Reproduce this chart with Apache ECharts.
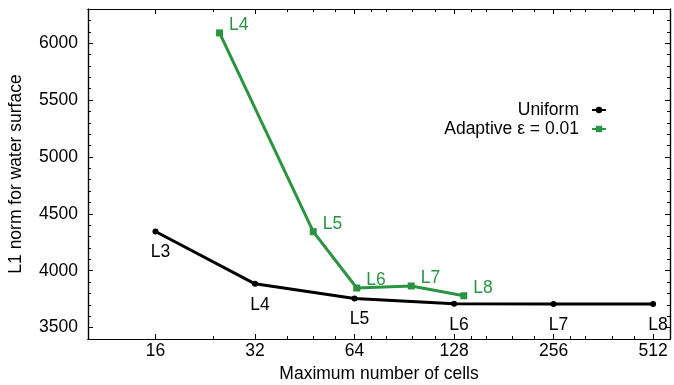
<!DOCTYPE html>
<html><head><meta charset="utf-8">
<script src="https://cdn.jsdelivr.net/npm/echarts@6/dist/echarts.min.js"></script>
<style>html,body{margin:0;padding:0;background:#fff}#c{width:674px;height:385px}</style>
</head><body><div id="c"></div>
<script>
const xTicks = [16, 32, 64, 128, 256, 512];
const xMinorTicks = [24, 40, 48, 56, 72, 80, 96, 112, 144, 160, 192, 224, 288, 320, 384, 448];
const yTicks = [3500, 4000, 4500, 5000, 5500, 6000];
const yMinorTicks = [3600, 3700, 3800, 3900, 4100, 4200, 4300, 4400, 4600, 4700, 4800, 4900,
  5100, 5200, 5300, 5400, 5600, 5700, 5800, 5900, 6100, 6200];
const uniformCells = [16, 32, 64, 128, 256, 512];
const uniformL1 = [4345, 3885, 3755, 3710, 3708, 3708];
const uniformLabels = ['L3', 'L4', 'L5', 'L6', 'L7', 'L8'];
const adaptiveCells = [25, 48, 65, 95, 137];
const adaptiveL1 = [6090, 4343, 3848, 3866, 3780];
const adaptiveLabels = ['L4', 'L5', 'L6', 'L7', 'L8'];

const FONT = 'Liberation Sans, Arial, Helvetica, sans-serif';
const FS = 17.5;
const GREEN = '#2b9440';
const X_MIN = 10, X_MAX = 576, Y_MIN = 3400, Y_MAX = 6300;

function xAx(pos, ticks, len, labels, name) {
  return {
    type: 'log', logBase: 2, min: X_MIN, max: X_MAX, position: pos,
    name: name || '', nameLocation: 'middle', nameGap: 21,
    nameTextStyle: {fontSize: FS, fontFamily: FONT, color: '#000'},
    axisLine: {show: true, onZero: false, lineStyle: {color: '#000', width: 1.2}},
    axisTick: {show: true, inside: true, length: len, customValues: ticks, lineStyle: {color: '#000', width: 1}},
    axisLabel: {show: labels, customValues: ticks, margin: 3, fontSize: FS, fontFamily: FONT, color: '#000',
      formatter: v => String(Math.round(v))},
    splitLine: {show: false}, minorTick: {show: false}
  };
}
function yAx(pos, ticks, len, labels, name) {
  return {
    type: 'value', min: Y_MIN, max: Y_MAX, position: pos,
    name: name || '', nameLocation: 'middle', nameGap: 63,
    nameTextStyle: {fontSize: FS, fontFamily: FONT, color: '#000'},
    axisLine: {show: true, onZero: false, lineStyle: {color: '#000', width: 1.2}},
    axisTick: {show: true, inside: true, length: len, customValues: ticks, lineStyle: {color: '#000', width: 1}},
    axisLabel: {show: labels, customValues: ticks, margin: 10, fontSize: FS, fontFamily: FONT, color: '#000',
      formatter: v => String(v)},
    splitLine: {show: false}
  };
}

const chart = echarts.init(document.getElementById('c'), null, {renderer: 'canvas'});
chart.setOption({
  animation: false,
  backgroundColor: '#fff',
  grid: {left: 88, right: 4, top: 9, bottom: 46, containLabel: false, outerBoundsMode: 'none'},
  xAxis: [
    xAx('bottom', xTicks, 5, true, 'Maximum number of cells'),
    xAx('bottom', xMinorTicks, 3, false),
    xAx('top', xTicks, 5, false),
    xAx('top', xMinorTicks, 3, false)
  ],
  yAxis: [
    yAx('left', yTicks, 5, true, 'L1 norm for water surface'),
    yAx('left', yMinorTicks, 3, false),
    yAx('right', yTicks, 5, false),
    yAx('right', yMinorTicks, 3, false)
  ],
  legend: {
    orient: 'vertical', right: 67, top: 101, align: 'right', padding: 0,
    itemWidth: 14, itemHeight: 8, itemGap: 1,
    textStyle: {fontSize: FS, fontFamily: FONT, color: '#000', lineHeight: 18, padding: [0, 8, 0, 0]},
    data: ['Uniform', 'Adaptive ε = 0.01']
  },
  series: [
    {
      name: 'Uniform', type: 'line', xAxisIndex: 0, yAxisIndex: 0,
      data: uniformCells.map((c, i) => [c, uniformL1[i]]),
      symbol: 'circle', symbolSize: 6,
      lineStyle: {color: '#000', width: 3}, itemStyle: {color: '#000'},
      label: {show: true, position: 'bottom', distance: 9, offset: [5, 0],
        fontSize: FS, fontFamily: FONT, color: '#000',
        formatter: p => uniformLabels[p.dataIndex]}
    },
    {
      name: 'Adaptive ε = 0.01', type: 'line', xAxisIndex: 0, yAxisIndex: 0,
      data: adaptiveCells.map((c, i) => [c, adaptiveL1[i]]),
      symbol: 'rect', symbolSize: 7,
      lineStyle: {color: GREEN, width: 3}, itemStyle: {color: GREEN},
      label: {show: true, position: 'right', distance: 6, offset: [0, -8],
        fontSize: FS, fontFamily: FONT, color: GREEN,
        formatter: p => adaptiveLabels[p.dataIndex]}
    }
  ]
});
</script>
</body></html>
